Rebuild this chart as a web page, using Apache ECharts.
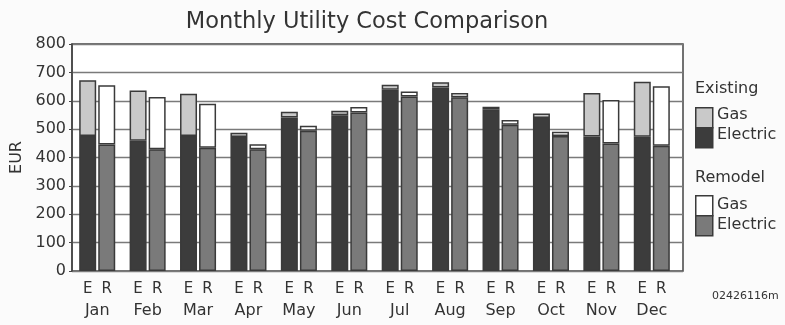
<!DOCTYPE html>
<html>
<head>
<meta charset="utf-8">
<script src="https://cdn.jsdelivr.net/npm/echarts@6/dist/echarts.min.js"></script>
<style>
  html, body { margin: 0; padding: 0; background: #fbfbfb; }
  #chart { width: 785px; height: 325px; }
</style>
</head>
<body>
<div id="chart"></div>
<script>
// Monthly utility costs (EUR): existing house vs. remodel, split into electric and gas
const months = ['Jan', 'Feb', 'Mar', 'Apr', 'May', 'Jun', 'Jul', 'Aug', 'Sep', 'Oct', 'Nov', 'Dec'];
const existingElectric = [476, 459, 476, 472, 541, 549, 639, 647, 568, 539, 474, 473];
const existingGas      = [196, 177, 149,  15,  20,  16,  17,  18,  11,  16, 153, 194];
const remodelElectric  = [446, 429, 434, 429, 494, 559, 615, 612, 515, 476, 449, 441];
const remodelGas       = [209, 184, 155,  18,  18,  19,  18,  15,  17,  15, 154, 210];
const yTicks = [0, 100, 200, 300, 400, 500, 600, 700, 800];

const FONT = '"DejaVu Sans", "Liberation Sans", sans-serif';
const INK = '#333';
const OUTLINE = '#3a3a3a';
const FRAME = '#444';
const COL = {
  exElec: '#3c3c3c',
  exGas: '#c9c9c9',
  reElec: '#7a7a7a',
  reGas: '#ffffff'
};
const Y_MIN = yTicks[0], Y_MAX = yTicks[yTicks.length - 1];

const chart = echarts.init(document.getElementById('chart'), null, { renderer: 'canvas' });

function barSeries(name, stack, data, color, letter) {
  const s = {
    name: name,
    type: 'bar',
    stack: stack,
    xAxisIndex: 0,
    yAxisIndex: 0,
    data: data,
    barWidth: 17,
    barGap: '12%',
    itemStyle: { color: color, borderColor: OUTLINE, borderWidth: 1.5 },
    emphasis: { disabled: true },
    animation: false
  };
  if (letter) {
    s.label = {
      show: true,
      position: 'bottom',
      distance: 11,
      formatter: letter,
      fontFamily: FONT,
      fontSize: 15,
      color: INK
    };
  }
  return s;
}

// Legend swatch: gas over electric, stacked like the bars
function swatch(top, gasColor, elecColor) {
  return [
    { type: 'rect', left: 695, top: top, shape: { width: 17, height: 20 },
      style: { fill: gasColor, stroke: OUTLINE, lineWidth: 1.5 } },
    { type: 'rect', left: 695, top: top + 20, shape: { width: 17, height: 20 },
      style: { fill: elecColor, stroke: OUTLINE, lineWidth: 1.5 } }
  ];
}
function txt(x, y, s, size) {
  return { type: 'text', left: x, top: y,
    style: { text: s, fontFamily: FONT, fontSize: size || 16, fill: INK } };
}

chart.setOption({
  backgroundColor: '#fbfbfb',
  title: {
    text: 'Monthly Utility Cost Comparison',
    left: 362, top: 6, textAlign: 'center',
    textStyle: { fontFamily: FONT, fontSize: 22.5, fontWeight: 'normal', color: INK }
  },
  grid: [
    // bars
    { left: 72, right: 108, top: 44, bottom: 54 },
    // frame, gridlines and value labels
    { left: 72, right: 102, top: 44, bottom: 54,
      show: true, backgroundColor: '#ffffff', borderColor: FRAME, borderWidth: 1.5, z: 0 }
  ],
  xAxis: [
    {
      type: 'category', gridIndex: 0,
      data: months,
      axisLine: { show: false },
      axisTick: { show: false },
      axisLabel: { margin: 32, fontFamily: FONT, fontSize: 16, color: INK }
    },
    {
      type: 'value', gridIndex: 1, min: 0, max: 1,
      axisLine: { show: false }, axisTick: { show: false },
      axisLabel: { show: false }, splitLine: { show: false }
    }
  ],
  yAxis: [
    {
      type: 'value', gridIndex: 0,
      min: Y_MIN, max: Y_MAX, interval: 100,
      axisLine: { show: false }, axisTick: { show: false },
      axisLabel: { show: false }, splitLine: { show: false }
    },
    {
      type: 'value', gridIndex: 1,
      min: Y_MIN, max: Y_MAX, interval: 100,
      name: 'EUR', nameLocation: 'middle', nameGap: 47, nameRotate: 90,
      nameTextStyle: { fontFamily: FONT, fontSize: 16, color: INK },
      axisLine: { show: true, lineStyle: { color: FRAME, width: 1.5 } },
      axisTick: { show: true, length: 3, lineStyle: { color: FRAME } },
      axisLabel: { margin: 6, fontFamily: FONT, fontSize: 16, color: INK },
      splitLine: { show: true, lineStyle: { color: '#7a7a7a', width: 1.3 } }
    }
  ],
  series: [
    barSeries('Existing Electric', 'E', existingElectric, COL.exElec, 'E'),
    barSeries('Existing Gas', 'E', existingGas, COL.exGas),
    barSeries('Remodel Electric', 'R', remodelElectric, COL.reElec, 'R'),
    barSeries('Remodel Gas', 'R', remodelGas, COL.reGas)
  ],
  graphic: [
    txt(695, 81, 'Existing'),
    ...swatch(107, COL.exGas, COL.exElec),
    txt(717, 107, 'Gas'),
    txt(717, 127, 'Electric'),
    txt(695, 170, 'Remodel'),
    ...swatch(195, COL.reGas, COL.reElec),
    txt(717, 197, 'Gas'),
    txt(717, 217, 'Electric'),
    txt(712, 291, '02426116m', 11)
  ]
});
</script>
</body>
</html>
